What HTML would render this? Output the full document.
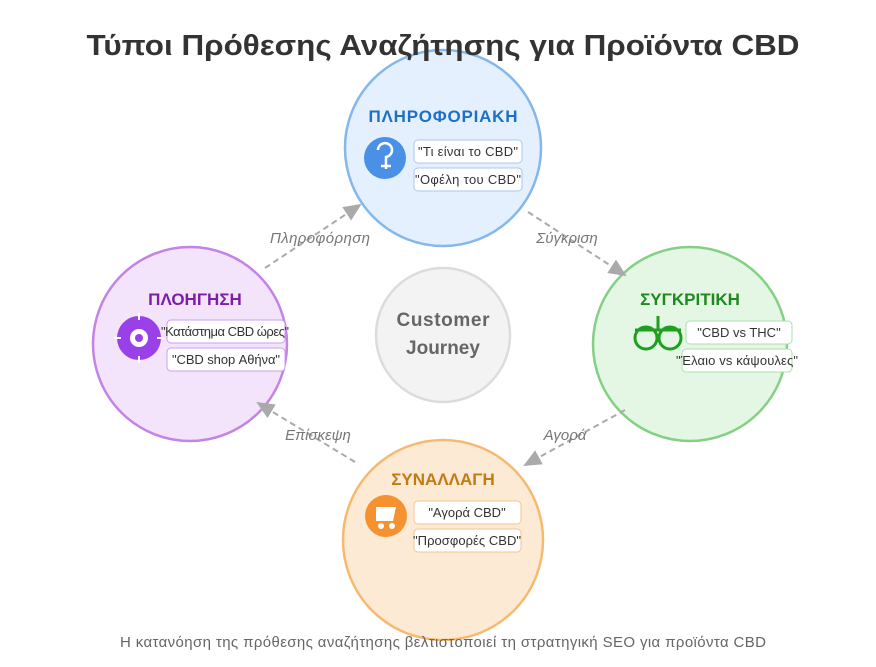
<!DOCTYPE html>
<html><head><meta charset="utf-8"><style>
body{margin:0;background:#fff;width:876px;height:662px;overflow:hidden;font-family:"Liberation Sans",sans-serif}
</style></head><body>
<svg width="876" height="662" xmlns="http://www.w3.org/2000/svg" font-family="Liberation Sans, sans-serif">
<defs><marker id="a" markerWidth="10" markerHeight="10" refX="8" refY="5" orient="auto"><path d="M0,1 L9,5 L0,9 z" fill="#aaa"/></marker></defs>

<circle cx="443" cy="148" r="98" fill="#e4f0fd" stroke="#84b7ec" stroke-width="2.5"/>
<circle cx="190" cy="344" r="97" fill="#f3e4fc" stroke="#c384e6" stroke-width="2.5"/>
<circle cx="690" cy="344" r="97" fill="#e4f7e4" stroke="#84d084" stroke-width="2.5"/>
<circle cx="443" cy="540" r="100" fill="#fdead5" stroke="#f5ba70" stroke-width="2.5"/>
<circle cx="443" cy="335" r="67" fill="#f3f3f3" stroke="#dcdcdc" stroke-width="2.5"/>
<text x="443" y="326" text-anchor="middle" font-size="19" font-weight="bold" fill="#666" textLength="93">Customer</text>
<text x="443" y="354" text-anchor="middle" font-size="19" font-weight="bold" fill="#666">Journey</text>

<text x="443" y="55" text-anchor="middle" font-size="29" font-weight="bold" fill="#333" textLength="713" lengthAdjust="spacingAndGlyphs">Τύποι Πρόθεσης Αναζήτησης για Προϊόντα CBD</text>

<g stroke="#aaa" stroke-width="2" stroke-dasharray="6,4" fill="none" marker-end="url(#a)">
<line x1="265" y1="268" x2="360" y2="205"/>
<line x1="528" y1="212" x2="625" y2="275"/>
<line x1="625" y1="410" x2="525" y2="465"/>
<line x1="355" y1="462" x2="258" y2="403"/>
</g>
<g font-size="15" font-style="italic" fill="#777" text-anchor="middle">
<text x="320" y="243" textLength="100">Πληροφόρηση</text>
<text x="567" y="243">Σύγκριση</text>
<text x="565" y="440">Αγορά</text>
<text x="318" y="440">Επίσκεψη</text>
</g>

<!-- top -->
<text x="443" y="122" text-anchor="middle" font-size="17" font-weight="bold" fill="#1e6fc6" textLength="149">ΠΛΗΡΟΦΟΡΙΑΚΗ</text>
<circle cx="385" cy="158" r="21" fill="#4a90e6"/>
<path d="M378,150 a7,7 0 1 1 8,7 v12 M381,166 h10" stroke="#fff" stroke-width="2.5" fill="none"/>
<rect x="414" y="140" width="108" height="23" rx="4" fill="#fff" stroke="#aac8ee"/>
<text x="468" y="156" text-anchor="middle" font-size="13" fill="#333" textLength="100">"Τι είναι το CBD"</text>
<rect x="414" y="168" width="108" height="23" rx="4" fill="#fff" stroke="#aac8ee"/>
<text x="468" y="184" text-anchor="middle" font-size="13" fill="#333" textLength="106">"Οφέλη του CBD"</text>

<!-- left -->
<text x="195" y="305" text-anchor="middle" font-size="17" font-weight="bold" fill="#7c1ea8">ΠΛΟΗΓΗΣΗ</text>
<circle cx="139" cy="338" r="22" fill="#9a40e8"/>
<circle cx="139" cy="338" r="9" fill="#fff"/><circle cx="139" cy="338" r="4" fill="#9a40e8"/>
<g stroke="#fff" stroke-width="2"><line x1="139" y1="313" x2="139" y2="320"/><line x1="139" y1="356" x2="139" y2="363"/><line x1="114" y1="338" x2="121" y2="338"/><line x1="157" y1="338" x2="164" y2="338"/></g>
<rect x="167" y="320" width="118" height="23" rx="4" fill="#fff" stroke="#c8a0ea"/>
<text x="225" y="336" text-anchor="middle" font-size="13" fill="#333" textLength="128">"Κατάστημα CBD ώρες"</text>
<rect x="167" y="348" width="118" height="23" rx="4" fill="#fff" stroke="#c8a0ea"/>
<text x="226" y="364" text-anchor="middle" font-size="13" fill="#333" textLength="108">"CBD shop Αθήνα"</text>

<!-- right -->
<text x="690" y="305" text-anchor="middle" font-size="17" font-weight="bold" fill="#1e8a1e">ΣΥΓΚΡΙΤΙΚΗ</text>
<g stroke="#1ea01e" stroke-width="3" fill="none"><circle cx="646" cy="338" r="11"/><circle cx="670" cy="338" r="11"/><line x1="658" y1="316" x2="658" y2="330"/><path d="M635,330 h46"/></g>
<rect x="686" y="321" width="106" height="23" rx="4" fill="#fff" stroke="#b0dcb0"/>
<text x="739" y="337" text-anchor="middle" font-size="13" fill="#333">"CBD vs THC"</text>
<rect x="682" y="349" width="110" height="23" rx="4" fill="#fff" stroke="#b0dcb0"/>
<text x="737" y="365" text-anchor="middle" font-size="13" fill="#333" textLength="122">"Έλαιο vs κάψουλες"</text>

<!-- bottom -->
<text x="443" y="485" text-anchor="middle" font-size="17" font-weight="bold" fill="#c27a12">ΣΥΝΑΛΛΑΓΗ</text>
<circle cx="386" cy="516" r="21" fill="#f5912e"/>
<path d="M376,507 h20 l-3,14 h-17 z" fill="#fff"/><circle cx="381" cy="526" r="3" fill="#fff"/><circle cx="392" cy="526" r="3" fill="#fff"/>
<rect x="414" y="501" width="107" height="23" rx="4" fill="#fff" stroke="#f3c78e"/>
<text x="467" y="517" text-anchor="middle" font-size="13" fill="#333">"Αγορά CBD"</text>
<rect x="414" y="529" width="107" height="23" rx="4" fill="#fff" stroke="#f3c78e"/>
<text x="467" y="545" text-anchor="middle" font-size="13" fill="#333" textLength="108">"Προσφορές CBD"</text>

<text x="443" y="647" text-anchor="middle" font-size="15" fill="#666" textLength="646">Η κατανόηση της πρόθεσης αναζήτησης βελτιστοποιεί τη στρατηγική SEO για προϊόντα CBD</text>
</svg>
</body></html>
